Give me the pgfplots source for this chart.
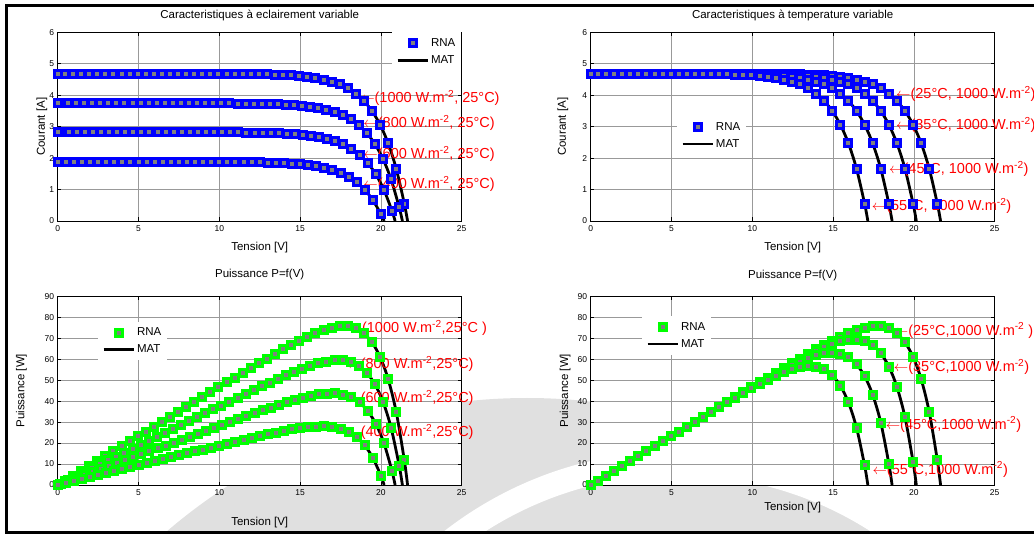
\documentclass[border=0pt]{standalone}
\usepackage{pgfplots}
\pgfplotsset{compat=1.18}
\usepackage{pgfplotstable}
\usepackage{fontspec}
\setmainfont{Liberation Sans}

% 1000 W/m2, 25 C
\pgfplotstableread{
V I P
21.65 0 0
21.45 0.550 11.80
20.95 1.659 34.76
20.45 2.469 50.49
19.95 3.063 61.11
19.45 3.497 68.02
18.95 3.814 72.28
18.45 4.047 74.67
17.95 4.217 75.70
17.45 4.341 75.75
16.95 4.432 75.12
16.45 4.498 73.99
15.95 4.547 72.52
15.45 4.583 70.81
14.95 4.609 68.90
14.45 4.628 66.87
13.95 4.642 64.76
13.45 4.652 62.57
12.95 4.659 60.33
12.45 4.665 58.08
11.95 4.669 55.79
11.45 4.672 53.49
10.95 4.68 51.25
10.45 4.68 48.91
9.95 4.68 46.57
9.45 4.68 44.23
8.95 4.68 41.89
8.45 4.68 39.55
7.95 4.68 37.21
7.45 4.68 34.87
6.95 4.68 32.53
6.45 4.68 30.19
5.95 4.68 27.85
5.45 4.68 25.51
4.95 4.68 23.17
4.45 4.68 20.83
3.95 4.68 18.49
3.45 4.68 16.15
2.95 4.68 13.81
2.45 4.68 11.47
1.95 4.68 9.13
1.45 4.68 6.79
0.95 4.68 4.45
0.45 4.68 2.11
0 4.68 0
}\tA
% 800 W/m2
\pgfplotstableread{
V I P
21.33 0 0
21.13 0.439 9.28
20.63 1.325 27.33
20.13 1.973 39.72
19.63 2.447 48.03
19.13 2.795 53.47
18.63 3.048 56.78
18.13 3.234 58.63
17.63 3.370 59.41
17.13 3.469 59.42
16.63 3.542 58.90
16.13 3.595 57.99
15.63 3.634 56.80
15.13 3.662 55.41
14.63 3.683 53.88
14.13 3.698 52.25
13.63 3.710 50.57
13.13 3.718 48.82
12.63 3.724 47.03
12.13 3.728 45.22
11.63 3.731 43.39
11.13 3.734 41.56
10.63 3.74 39.76
10.13 3.74 37.89
9.63 3.74 36.02
9.13 3.74 34.15
8.63 3.74 32.28
8.13 3.74 30.41
7.63 3.74 28.54
7.13 3.74 26.67
6.63 3.74 24.80
6.13 3.74 22.93
5.63 3.74 21.06
5.13 3.74 19.19
4.63 3.74 17.32
4.13 3.74 15.45
3.63 3.74 13.58
3.13 3.74 11.71
2.63 3.74 9.84
2.13 3.74 7.97
1.63 3.74 6.10
1.13 3.74 4.23
0.63 3.74 2.36
0.13 3.74 0.49
0 3.74 0
}\tB
% 600 W/m2
\pgfplotstableread{
V I P
20.88 0 0
20.68 0.331 6.85
20.18 0.999 20.16
19.68 1.488 29.28
19.18 1.845 35.39
18.68 2.107 39.36
18.18 2.298 41.78
17.68 2.438 43.10
17.18 2.541 43.65
16.68 2.616 43.63
16.18 2.671 43.22
15.68 2.711 42.51
15.18 2.740 41.59
14.68 2.761 40.53
14.18 2.777 39.38
13.68 2.789 38.15
13.18 2.797 36.86
12.68 2.803 35.54
12.18 2.808 34.20
11.68 2.811 32.83
11.18 2.814 31.46
10.68 2.815 30.06
10.18 2.82 28.71
9.68 2.82 27.30
9.18 2.82 25.89
8.68 2.82 24.48
8.18 2.82 23.07
7.68 2.82 21.66
7.18 2.82 20.25
6.68 2.82 18.84
6.18 2.82 17.43
5.68 2.82 16.02
5.18 2.82 14.61
4.68 2.82 13.20
4.18 2.82 11.79
3.68 2.82 10.38
3.18 2.82 8.97
2.68 2.82 7.56
2.18 2.82 6.15
1.68 2.82 4.74
1.18 2.82 3.33
0.68 2.82 1.92
0.18 2.82 0.51
0 2.82 0
}\tC
% 400 W/m2
\pgfplotstableread{
V I P
20.2 0 0
20.0 0.221 4.42
19.5 0.666 12.99
19.0 0.992 18.85
18.5 1.230 22.76
18.0 1.405 25.29
17.5 1.532 26.81
17.0 1.626 27.64
16.5 1.694 27.95
16.0 1.744 27.90
15.5 1.780 27.59
15.0 1.807 27.11
14.5 1.827 26.49
14.0 1.841 25.77
13.5 1.851 24.99
13.0 1.859 24.17
12.5 1.865 23.31
12.0 1.869 22.43
11.5 1.872 21.53
11.0 1.874 20.61
10.5 1.876 19.70
10.0 1.877 18.77
9.5 1.88 17.86
9.0 1.88 16.92
8.5 1.88 15.98
8.0 1.88 15.04
7.5 1.88 14.10
7.0 1.88 13.16
6.5 1.88 12.22
6.0 1.88 11.28
5.5 1.88 10.34
5.0 1.88 9.40
4.5 1.88 8.46
4.0 1.88 7.52
3.5 1.88 6.58
3.0 1.88 5.64
2.5 1.88 4.70
2.0 1.88 3.76
1.5 1.88 2.82
1.0 1.88 1.88
0.5 1.88 0.94
0 1.88 0
}\tD
% 35 C
\pgfplotstableread{
V I P
20.15 0 0
19.95 0.550 10.97
19.45 1.659 32.27
18.95 2.469 46.79
18.45 3.063 56.51
17.95 3.497 62.77
17.45 3.814 66.55
16.95 4.047 68.60
16.45 4.217 69.37
15.95 4.341 69.24
15.45 4.432 68.47
14.95 4.498 67.25
14.45 4.547 65.70
13.95 4.583 63.93
13.45 4.609 61.99
12.95 4.628 59.93
12.45 4.642 57.79
11.95 4.652 55.59
11.45 4.659 53.35
10.95 4.665 51.08
10.45 4.669 48.79
9.95 4.672 46.49
9.45 4.68 44.23
8.95 4.68 41.89
8.45 4.68 39.55
7.95 4.68 37.21
7.45 4.68 34.87
6.95 4.68 32.53
6.45 4.68 30.19
5.95 4.68 27.85
5.45 4.68 25.51
4.95 4.68 23.17
4.45 4.68 20.83
3.95 4.68 18.49
3.45 4.68 16.15
2.95 4.68 13.81
2.45 4.68 11.47
1.95 4.68 9.13
1.45 4.68 6.79
0.95 4.68 4.45
0.45 4.68 2.11
0 4.68 0
}\tE
% 45 C
\pgfplotstableread{
V I P
18.65 0 0
18.45 0.550 10.15
17.95 1.659 29.78
17.45 2.469 43.08
16.95 3.063 51.92
16.45 3.497 57.53
15.95 3.814 60.83
15.45 4.047 62.53
14.95 4.217 63.04
14.45 4.341 62.73
13.95 4.432 61.83
13.45 4.498 60.50
12.95 4.547 58.88
12.45 4.583 57.06
11.95 4.609 55.08
11.45 4.628 52.99
10.95 4.642 50.83
10.45 4.652 48.61
9.95 4.659 46.36
9.45 4.665 44.08
8.95 4.669 41.79
8.45 4.672 39.48
7.95 4.68 37.21
7.45 4.68 34.87
6.95 4.68 32.53
6.45 4.68 30.19
5.95 4.68 27.85
5.45 4.68 25.51
4.95 4.68 23.17
4.45 4.68 20.83
3.95 4.68 18.49
3.45 4.68 16.15
2.95 4.68 13.81
2.45 4.68 11.47
1.95 4.68 9.13
1.45 4.68 6.79
0.95 4.68 4.45
0.45 4.68 2.11
0 4.68 0
}\tF
% 55 C
\pgfplotstableread{
V I P
17.15 0 0
16.95 0.550 9.32
16.45 1.659 27.29
15.95 2.469 39.38
15.45 3.063 47.32
14.95 3.497 52.28
14.45 3.814 55.11
13.95 4.047 56.46
13.45 4.217 56.72
12.95 4.341 56.22
12.45 4.432 55.18
11.95 4.498 53.75
11.45 4.547 52.06
10.95 4.583 50.18
10.45 4.609 48.16
9.95 4.628 46.05
9.45 4.642 43.87
8.95 4.652 41.64
8.45 4.659 39.37
7.95 4.665 37.09
7.45 4.669 34.78
6.95 4.672 32.47
6.45 4.68 30.19
5.95 4.68 27.85
5.45 4.68 25.51
4.95 4.68 23.17
4.45 4.68 20.83
3.95 4.68 18.49
3.45 4.68 16.15
2.95 4.68 13.81
2.45 4.68 11.47
1.95 4.68 9.13
1.45 4.68 6.79
0.95 4.68 4.45
0.45 4.68 2.11
0 4.68 0
}\tG

\definecolor{mblue}{rgb}{0,0,1}
\definecolor{mgreen}{rgb}{0,1,0}
\definecolor{mred}{rgb}{1,0,0}
\definecolor{mgray}{rgb}{0.5,0.5,0.5}

% MATLAB-like square marker: thick coloured edge, gray face
\pgfdeclareplotmark{rnab}{%
  \pgfsetfillcolor{mblue}%
  \pgfpathrectangle{\pgfpoint{-5pt}{-5pt}}{\pgfpoint{10pt}{10pt}}\pgfusepathqfill
  \pgfsetfillcolor{mgray}%
  \pgfpathrectangle{\pgfpoint{-2pt}{-2pt}}{\pgfpoint{4pt}{4pt}}\pgfusepathqfill}
\pgfdeclareplotmark{rnag}{%
  \pgfsetfillcolor{mgreen}%
  \pgfpathrectangle{\pgfpoint{-5pt}{-5pt}}{\pgfpoint{10pt}{10pt}}\pgfusepathqfill
  \pgfsetfillcolor{mgray}%
  \pgfpathrectangle{\pgfpoint{-2pt}{-2pt}}{\pgfpoint{4pt}{4pt}}\pgfusepathqfill}

\tikzset{ann/.style={anchor=west, inner sep=0pt, text=mred, font=\fontsize{14.5}{15}\selectfont}}

\pgfplotsset{
  base/.style={
    scale only axis, width=404pt, height=188.7pt,
    anchor=south west,
    xmin=0, xmax=25, xtick={0,5,...,25},
    grid=major, major grid style={draw=black!40, line width=0.7pt},
    axis line style={line width=0.9pt},
    tick align=inside, major tick length=3.5pt,
    tick style={black, line width=0.8pt},
    tick label style={font=\fontsize{8.5}{9}\selectfont},
    xticklabel style={yshift=-1.5pt},
    label style={font=\fontsize{11.5}{12}\selectfont},
    title style={font=\fontsize{11.5}{12}\selectfont, anchor=center, yshift=0pt},
    /pgf/number format/assume math mode=true,
    clip=false,
    axis background/.style={fill=white},
    legend style={draw=none, fill=white, font=\fontsize{11.5}{12}\selectfont,
      inner xsep=4pt, inner ysep=4pt, row sep=3.5pt, anchor=north west},
    legend cell align=left,
    legend image code/.code={\draw[mark repeat=2,mark phase=2,##1] plot coordinates {(0pt,0pt) (15pt,0pt) (30pt,0pt)};},
  },
  rna/.style={only marks, mark=#1, skip coords between index={0}{1}},
  mat/.style={black, line width=2.8pt, smooth, no marks},
}

\begin{document}
\begin{tikzpicture}
\useasboundingbox (0pt,0pt) rectangle (1034pt,-534pt);
% faint watermark
\fill[black!12] (527pt,-951pt) circle (553pt);
\draw[white, line width=24pt] (678pt,-832pt) circle (369pt);
% frame
\draw[line width=3pt] (1040pt,-6pt) -- (6pt,-6pt) -- (6pt,-532pt) -- (1040pt,-532pt);

% ---------- top left ----------
\begin{axis}[base, at={(57.7pt,-221pt)},
  ymin=0, ymax=6, ytick={0,...,6},
  title={Caracteristiques à eclairement variable},
  title style={at={(axis description cs:0.5,1.055)}},
  xlabel={Tension [V]}, xlabel style={at={(axis description cs:0.5,-0.138)}, anchor=center},
  ylabel={Courant [A]}, ylabel style={at={(axis description cs:-0.039,0.5)}, anchor=center},
  legend style={at={(axis description cs:0.8275,1.0)}},
]
\addplot[rna=rnab] table[x=V,y=I]{\tA}; \addlegendentry{RNA}
\addplot[rna=rnab, forget plot] table[x=V,y=I]{\tB};
\addplot[rna=rnab, forget plot] table[x=V,y=I]{\tC};
\addplot[rna=rnab, forget plot] table[x=V,y=I]{\tD};
\addplot[mat] table[x=V,y=I]{\tA}; \addlegendentry{MAT}
\addplot[mat, forget plot] table[x=V,y=I]{\tB};
\addplot[mat, forget plot] table[x=V,y=I]{\tC};
\addplot[mat, forget plot] table[x=V,y=I]{\tD};
\node[ann] at (axis cs:18.71,3.92) {$\leftarrow$(1000 W.m\textsuperscript{-2}, 25°C)};
\node[ann] at (axis cs:18.91,3.11) {$\leftarrow$(800 W.m\textsuperscript{-2}, 25°C)};
\node[ann] at (axis cs:18.91,2.13) {$\leftarrow$(600 W.m\textsuperscript{-2}, 25°C)};
\node[ann] at (axis cs:18.91,1.18) {$\leftarrow$(400 W.m\textsuperscript{-2}, 25°C)};
\end{axis}

% ---------- top right ----------
\begin{axis}[base, at={(590.7pt,-221pt)},
  ymin=0, ymax=6, ytick={0,...,6},
  title={Caracteristiques à temperature variable},
  title style={at={(axis description cs:0.5,1.055)}},
  xlabel={Tension [V]}, xlabel style={at={(axis description cs:0.5,-0.138)}, anchor=center},
  ylabel={Courant [A]}, ylabel style={at={(axis description cs:-0.0686,0.5)}, anchor=center},
  legend style={at={(axis description cs:0.2136,0.555)}},
]
\addplot[rna=rnab] table[x=V,y=I]{\tA}; \addlegendentry{RNA}
\addplot[rna=rnab, forget plot] table[x=V,y=I]{\tE};
\addplot[rna=rnab, forget plot] table[x=V,y=I]{\tF};
\addplot[rna=rnab, forget plot] table[x=V,y=I]{\tG};
\addplot[mat] table[x=V,y=I]{\tA}; \addlegendentry{MAT}
\addplot[mat, forget plot] table[x=V,y=I]{\tE};
\addplot[mat, forget plot] table[x=V,y=I]{\tF};
\addplot[mat, forget plot] table[x=V,y=I]{\tG};
\node[ann] at (axis cs:18.89,4.03) {$\leftarrow$(25°C, 1000 W.m\textsuperscript{-2})};
\node[ann] at (axis cs:18.89,3.05) {$\leftarrow$(35°C, 1000 W.m\textsuperscript{-2})};
\node[ann] at (axis cs:18.46,1.65) {$\leftarrow$(45°C, 1000 W.m\textsuperscript{-2})};
\node[ann] at (axis cs:17.39,0.477) {$\leftarrow$(55°C, 1000 W.m\textsuperscript{-2})};
\end{axis}

% ---------- bottom left ----------
\begin{axis}[base, at={(57.7pt,-485pt)},
  ymin=0, ymax=90, ytick={0,10,...,90},
  title={Puissance P=f(V)},
  title style={at={(axis description cs:0.5,1.086)}},
  xlabel={Tension [V]}, xlabel style={at={(axis description cs:0.5,-0.200)}, anchor=center},
  ylabel={Puissance [W]}, ylabel style={at={(axis description cs:-0.090,0.5)}, anchor=center},
  legend style={at={(axis description cs:0.0998,0.865)}},
]
\addplot[rna=rnag] table[x=V,y=P]{\tA}; \addlegendentry{RNA}
\addplot[rna=rnag, forget plot] table[x=V,y=P]{\tB};
\addplot[rna=rnag, forget plot] table[x=V,y=P]{\tC};
\addplot[rna=rnag, forget plot] table[x=V,y=P]{\tD};
\addplot[mat] table[x=V,y=P]{\tA}; \addlegendentry{MAT}
\addplot[mat, forget plot] table[x=V,y=P]{\tB};
\addplot[mat, forget plot] table[x=V,y=P]{\tC};
\addplot[mat, forget plot] table[x=V,y=P]{\tD};
\node[ann] at (axis cs:17.93,75.0) {$\leftarrow$(1000 W.m\textsuperscript{-2},25°C )};
\node[ann] at (axis cs:17.85,57.9) {$\leftarrow$(800 W.m\textsuperscript{-2},25°C)};
\node[ann] at (axis cs:17.85,41.5) {$\leftarrow$(600 W.m\textsuperscript{-2},25°C)};
\node[ann] at (axis cs:17.85,25.3) {$\leftarrow$(400 W.m\textsuperscript{-2},25°C)};
\end{axis}

% ---------- bottom right ----------
\begin{axis}[base, at={(590.7pt,-485pt)},
  ymin=0, ymax=90, ytick={0,10,...,90},
  title={Puissance P=f(V)},
  title style={at={(axis description cs:0.5,1.077)}},
  xlabel={Tension [V]}, xlabel style={at={(axis description cs:0.5,-0.120)}, anchor=center},
  ylabel={Puissance [W]}, ylabel style={at={(axis description cs:-0.063,0.5)}, anchor=center},
  legend style={at={(axis description cs:0.127,0.895)}},
]
\addplot[rna=rnag] table[x=V,y=P]{\tA}; \addlegendentry{RNA}
\addplot[rna=rnag, forget plot] table[x=V,y=P]{\tE};
\addplot[rna=rnag, forget plot] table[x=V,y=P]{\tF};
\addplot[rna=rnag, forget plot] table[x=V,y=P]{\tG};
\addplot[mat] table[x=V,y=P]{\tA}; \addlegendentry{MAT}
\addplot[mat, forget plot] table[x=V,y=P]{\tE};
\addplot[mat, forget plot] table[x=V,y=P]{\tF};
\addplot[mat, forget plot] table[x=V,y=P]{\tG};
\node[ann] at (axis cs:18.75,73.7) {$\leftarrow$(25°C,1000 W.m\textsuperscript{-2} )};
\node[ann] at (axis cs:18.75,56.2) {$\leftarrow$(35°C,1000 W.m\textsuperscript{-2})};
\node[ann] at (axis cs:18.25,28.9) {$\leftarrow$(45°C,1000 W.m\textsuperscript{-2})};
\node[ann] at (axis cs:17.43,7.4) {$\leftarrow$(55°C,1000 W.m\textsuperscript{-2})};
\end{axis}
\end{tikzpicture}
\end{document}
